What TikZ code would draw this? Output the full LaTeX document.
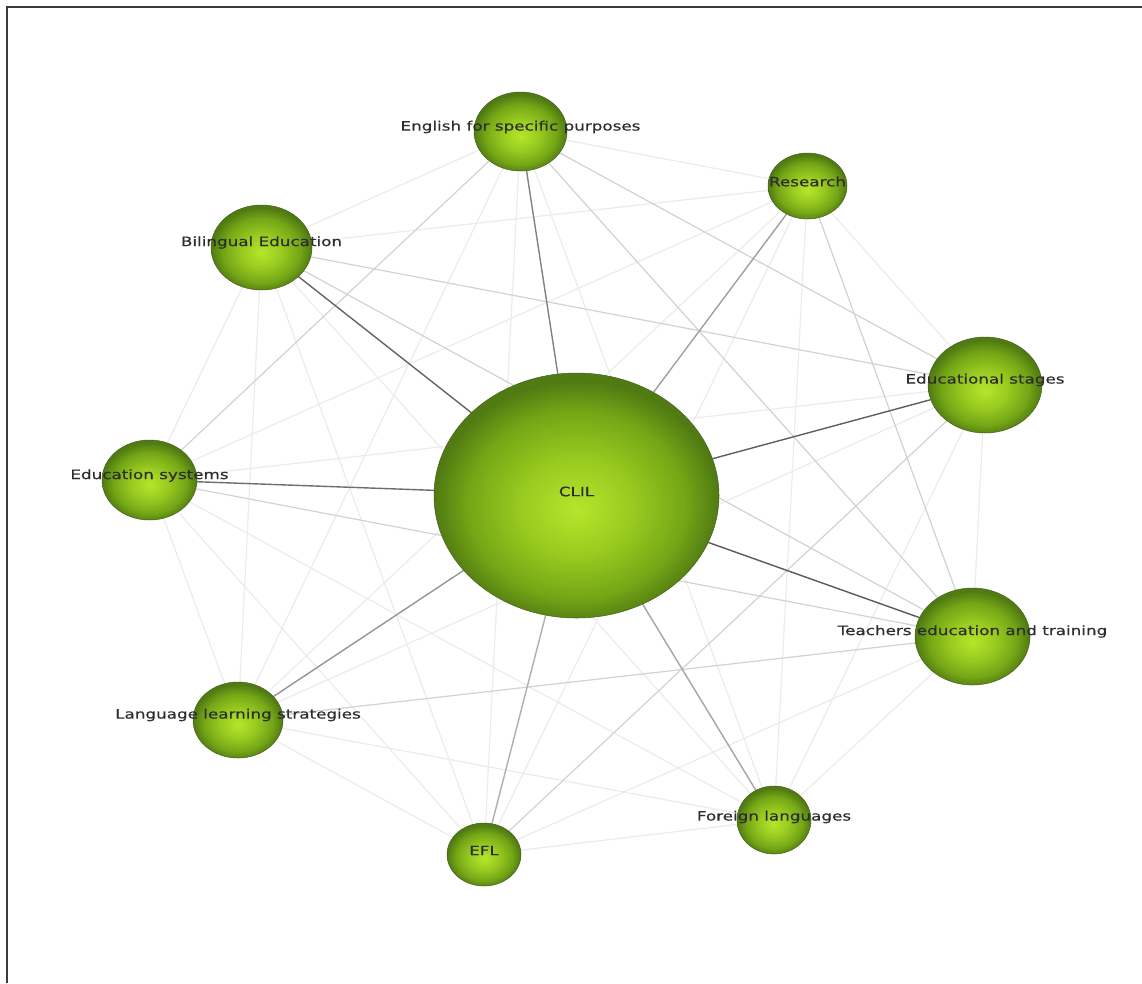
\documentclass[tikz,border=0pt]{standalone}
\usepackage{fontspec}
\usetikzlibrary{shapes.geometric,backgrounds}
\newfontfamily\lblfont{DejaVu Sans}[FakeStretch=1.3, FakeBold=0.4]
\definecolor{limeA}{RGB}{182,230,42}
\definecolor{limeB}{RGB}{152,202,32}
\definecolor{limeC}{RGB}{116,166,22}
\definecolor{limeD}{RGB}{80,122,18}
\definecolor{ballrim}{RGB}{70,96,30}
\definecolor{lbltext}{RGB}{45,45,45}
\definecolor{framecol}{RGB}{60,60,60}
\pgfdeclareradialshading{limeball}{\pgfpoint{0bp}{-3bp}}{color(0bp)=(limeA); color(10bp)=(limeB); color(19bp)=(limeC); color(25bp)=(limeD); color(50bp)=(limeD)}
\tikzset{
  ball/.style={ellipse, shading=limeball, draw=ballrim, line width=0.5pt, inner sep=0pt},
  lbl/.style={font=\lblfont\fontsize{12.9}{15}\selectfont, text=lbltext, inner sep=0pt},
  weak/.style={draw={rgb,255:red,236;green,236;blue,236}, line width=1.2pt},
  midw/.style={draw={rgb,255:red,210;green,210;blue,210}, line width=1.2pt},
  hub/.style={line width=1.4pt},
}
\begin{document}
\begin{tikzpicture}[x=1pt, y=-1pt]
\useasboundingbox (0,0) rectangle (1142,983);
% balls
\node[ball, minimum width=285, minimum height=245] (clil) at (576.5,495.5) {};
\node[ball, minimum width=93, minimum height=79] (esp) at (520.5,131.5) {};
\node[ball, minimum width=79, minimum height=66] (res) at (807.5,186) {};
\node[ball, minimum width=101, minimum height=85] (bil) at (261.5,247.5) {};
\node[ball, minimum width=114, minimum height=96] (stages) at (985,385) {};
\node[ball, minimum width=95, minimum height=80] (edusys) at (149.5,480) {};
\node[ball, minimum width=115, minimum height=97] (teach) at (972.5,636.5) {};
\node[ball, minimum width=90, minimum height=76] (lls) at (238,720) {};
\node[ball, minimum width=74, minimum height=63] (efl) at (484,854.5) {};
\node[ball, minimum width=74, minimum height=68] (flang) at (774,820) {};
% edges
\begin{scope}[on background layer]
\fill[white] (0,0) rectangle (1142,983);
\draw[framecol, line width=2pt] (7,983) -- (7,7) -- (1142,7);
\foreach \a/\b in {esp/res, esp/bil, esp/lls, esp/efl, esp/flang,
  res/stages, res/edusys, res/lls, res/efl, res/flang,
  bil/edusys, bil/lls, bil/efl, bil/flang,
  stages/edusys, stages/lls, stages/flang,
  edusys/lls, edusys/efl, edusys/flang,
  teach/efl, teach/flang, lls/efl, lls/flang, efl/flang, res/bil, stages/teach}
  \draw[weak] (\a) -- (\b);
\foreach \a/\b in {esp/edusys, esp/teach, edusys/teach, stages/efl, bil/teach, esp/stages, bil/stages, teach/lls, res/teach}
  \draw[midw] (\a) -- (\b);
\draw[hub, draw={rgb,255:red,100;green,100;blue,100}] (clil) -- (bil);
\draw[hub, draw={rgb,255:red,110;green,110;blue,110}] (clil) -- (edusys);
\draw[hub, draw={rgb,255:red,95;green,95;blue,95}] (clil) -- (stages);
\draw[hub, draw={rgb,255:red,90;green,90;blue,90}] (clil) -- (teach);
\draw[hub, draw={rgb,255:red,130;green,130;blue,130}] (clil) -- (esp);
\draw[hub, draw={rgb,255:red,160;green,160;blue,160}] (clil) -- (res);
\draw[hub, draw={rgb,255:red,150;green,150;blue,150}] (clil) -- (lls);
\draw[hub, draw={rgb,255:red,175;green,175;blue,175}] (clil) -- (efl);
\draw[hub, draw={rgb,255:red,165;green,165;blue,165}] (clil) -- (flang);
\end{scope}
% labels
\node[lbl] (clil-t) at ([yshift=4pt]clil.center) {CLIL};
\node[lbl] (esp-t) at ([yshift=4.5pt]esp.center) {English for specific purposes};
\node[lbl] (res-t) at ([yshift=4.5pt]res.center) {Research};
\node[lbl] (bil-t) at ([yshift=5pt]bil.center) {Bilingual Education};
\node[lbl] (stages-t) at ([yshift=5pt]stages.center) {Educational stages};
\node[lbl] (edusys-t) at ([yshift=4.5pt]edusys.center) {Education systems};
\node[lbl] (teach-t) at ([yshift=5pt]teach.center) {Teachers education and training};
\node[lbl] (lls-t) at ([yshift=5pt]lls.center) {Language learning strategies};
\node[lbl] (efl-t) at ([yshift=4pt]efl.center) {EFL};
\node[lbl] (flang-t) at ([yshift=3pt]flang.center) {Foreign languages};
\end{tikzpicture}
\end{document}
